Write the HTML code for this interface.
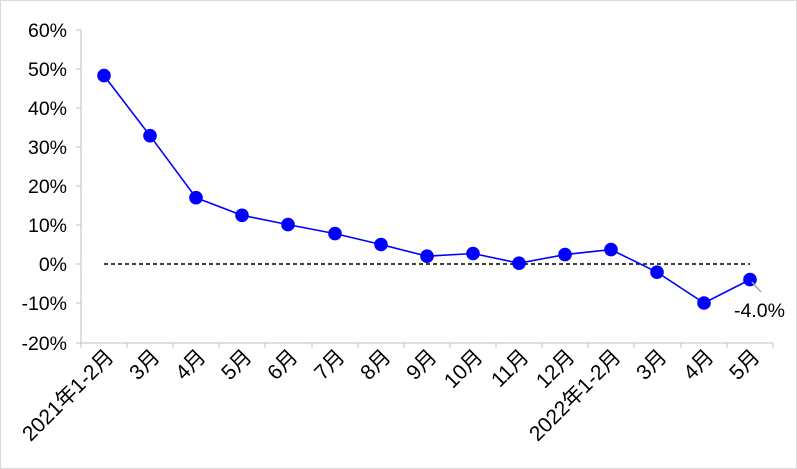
<!DOCTYPE html>
<html><head><meta charset="utf-8"><style>
html,body{margin:0;padding:0;background:#fff;}
svg{display:block;font-family:"Liberation Sans","Noto Sans CJK SC",sans-serif;}
</style></head><body>
<svg width="797" height="469" viewBox="0 0 797 469" xmlns="http://www.w3.org/2000/svg">
<rect x="0.5" y="0.5" width="796" height="468" fill="#fff" stroke="#d9d9d9"/>
<g stroke="#bfbfbf" stroke-width="1">
<line x1="81" y1="30" x2="81" y2="343"/>
<line x1="81" y1="343" x2="773" y2="343"/>
<line x1="76" y1="30" x2="81" y2="30"/><line x1="76" y1="69" x2="81" y2="69"/><line x1="76" y1="108" x2="81" y2="108"/><line x1="76" y1="147" x2="81" y2="147"/><line x1="76" y1="186" x2="81" y2="186"/><line x1="76" y1="225" x2="81" y2="225"/><line x1="76" y1="264" x2="81" y2="264"/><line x1="76" y1="303" x2="81" y2="303"/><line x1="76" y1="343" x2="81" y2="343"/>
<line x1="81" y1="343" x2="81" y2="348"/><line x1="127" y1="343" x2="127" y2="348"/><line x1="173" y1="343" x2="173" y2="348"/><line x1="219" y1="343" x2="219" y2="348"/><line x1="265" y1="343" x2="265" y2="348"/><line x1="312" y1="343" x2="312" y2="348"/><line x1="358" y1="343" x2="358" y2="348"/><line x1="404" y1="343" x2="404" y2="348"/><line x1="450" y1="343" x2="450" y2="348"/><line x1="496" y1="343" x2="496" y2="348"/><line x1="542" y1="343" x2="542" y2="348"/><line x1="588" y1="343" x2="588" y2="348"/><line x1="634" y1="343" x2="634" y2="348"/><line x1="681" y1="343" x2="681" y2="348"/><line x1="727" y1="343" x2="727" y2="348"/><line x1="773" y1="343" x2="773" y2="348"/>
</g>
<g font-size="19.5" fill="#000" text-anchor="end">
<text x="67" y="37">60%</text><text x="67" y="76">50%</text><text x="67" y="115">40%</text><text x="67" y="154">30%</text><text x="67" y="193">20%</text><text x="67" y="232">10%</text><text x="67" y="271">0%</text><text x="67" y="310">-10%</text><text x="67" y="350">-20%</text>
</g>
<line x1="104" y1="264" x2="750" y2="264" stroke="#000" stroke-width="1.6" stroke-dasharray="4,3"/>
<polyline fill="none" stroke="#0000ff" stroke-width="1.6" points="104,75.6 150,135.7 196,197.7 242,215.3 288,224.6 335,233.6 381,244.5 427,256.2 473,253.5 519,263.2 565,254.6 611,249.6 657,272.2 704,303 750,279.6"/>
<g fill="#0000ff">
<circle cx="104" cy="75.6" r="6.8"/><circle cx="150" cy="135.7" r="6.8"/><circle cx="196" cy="197.7" r="6.8"/><circle cx="242" cy="215.3" r="6.8"/><circle cx="288" cy="224.6" r="6.8"/><circle cx="335" cy="233.6" r="6.8"/><circle cx="381" cy="244.5" r="6.8"/><circle cx="427" cy="256.2" r="6.8"/><circle cx="473" cy="253.5" r="6.8"/><circle cx="519" cy="263.2" r="6.8"/><circle cx="565" cy="254.6" r="6.8"/><circle cx="611" cy="249.6" r="6.8"/><circle cx="657" cy="272.2" r="6.8"/><circle cx="704" cy="303" r="6.8"/><circle cx="750" cy="279.6" r="6.8"/>
</g>
<line x1="752" y1="282" x2="761" y2="292" stroke="#a6a6a6" stroke-width="1.5"/>
<text x="734" y="317" font-size="19.5">-4.0%</text>
<g font-size="21" fill="#000" text-anchor="end">
<text transform="translate(115,358) rotate(-45)">2021年1-2月</text>
<text transform="translate(161,358) rotate(-45)">3月</text>
<text transform="translate(207,358) rotate(-45)">4月</text>
<text transform="translate(253,358) rotate(-45)">5月</text>
<text transform="translate(299,358) rotate(-45)">6月</text>
<text transform="translate(346,358) rotate(-45)">7月</text>
<text transform="translate(392,358) rotate(-45)">8月</text>
<text transform="translate(438,358) rotate(-45)">9月</text>
<text transform="translate(484,358) rotate(-45)">10月</text>
<text transform="translate(530,358) rotate(-45)">11月</text>
<text transform="translate(576,358) rotate(-45)">12月</text>
<text transform="translate(622,358) rotate(-45)">2022年1-2月</text>
<text transform="translate(668,358) rotate(-45)">3月</text>
<text transform="translate(715,358) rotate(-45)">4月</text>
<text transform="translate(761,358) rotate(-45)">5月</text>
</g>
</svg>
</body></html>
